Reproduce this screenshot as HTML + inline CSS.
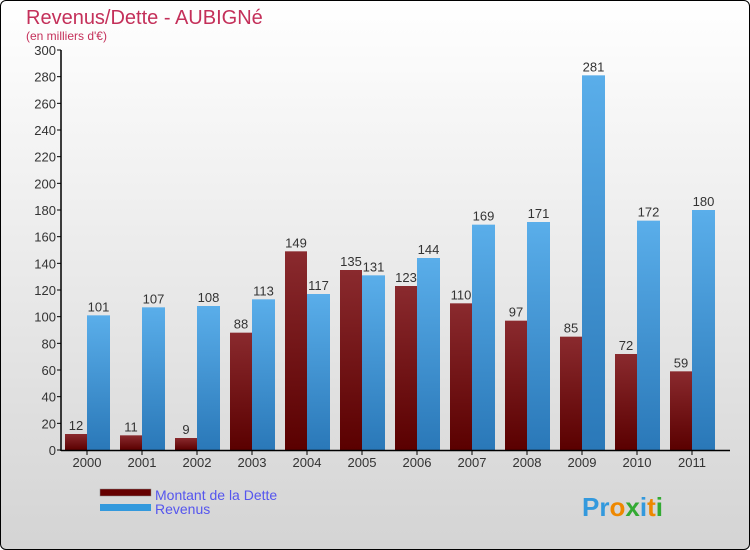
<!DOCTYPE html>
<html><head><meta charset="utf-8"><style>
body{margin:0;width:750px;height:550px;overflow:hidden;font-family:"Liberation Sans",sans-serif;}
#frame{position:absolute;left:0;top:0;width:748px;height:548px;border:1px solid #000;border-radius:6px;background:linear-gradient(#ffffff,#d4d4d4);}
</style></head><body>
<div id="frame"></div>
<svg width="750" height="550" style="position:absolute;left:0;top:0">
<defs>
<linearGradient id="gd" x1="0" y1="0" x2="0" y2="1"><stop offset="0" stop-color="#8a2a2e"/><stop offset="1" stop-color="#5a0000"/></linearGradient>
<linearGradient id="gr" x1="0" y1="0" x2="0" y2="1"><stop offset="0" stop-color="#5aaeea"/><stop offset="1" stop-color="#2a78b8"/></linearGradient>
</defs>
<text x="26" y="24" font-size="20" fill="#c4305a">Revenus/Dette - AUBIGNé</text>
<text x="26" y="40" font-size="12" fill="#c4305a">(en milliers d'€)</text>
<g id="plot"></g>
<rect x="100" y="489" width="51" height="7" fill="#660000" stroke="#888" stroke-width="0.5"/>
<text x="155" y="500" font-size="14" fill="#5555ee">Montant de la Dette</text>
<rect x="100" y="504" width="51" height="7" fill="#3399dd"/>
<text x="155" y="514" font-size="14" fill="#5555ee">Revenus</text>
<text x="582" y="516" font-size="26" font-weight="bold"><tspan fill="#3399dd">Pr</tspan><tspan fill="#ee8800">o</tspan><tspan fill="#33aa33">x</tspan><tspan fill="#3399dd">i</tspan><tspan fill="#ee8800">t</tspan><tspan fill="#33aa33">i</tspan></text>
</svg>
<script>
const years=["2000","2001","2002","2003","2004","2005","2006","2007","2008","2009","2010","2011"];
const dette=[12,11,9,88,149,135,123,110,97,85,72,59];
const revenus=[101,107,108,113,117,131,144,169,171,281,172,180];
const yTicks=[0,20,40,60,80,100,120,140,160,180,200,220,240,260,280,300];
const NS="http://www.w3.org/2000/svg";
const g=document.getElementById('plot');
const x0=62,gw=55,yBase=450,yTop=50,yMax=300;
const y=v=>yBase-v*(yBase-yTop)/yMax;
function mk(t,a,txt){const e=document.createElementNS(NS,t);for(const k in a)e.setAttribute(k,a[k]);if(txt!==undefined)e.textContent=txt;g.appendChild(e);return e;}
yTicks.forEach(v=>{
 const l=mk('line',{x1:57,x2:61,y1:y(v),y2:y(v),stroke:'#000'});
 
 
 const t=mk('text',{x:56,y:y(v)+5,'text-anchor':'end','font-size':13,fill:'#333'},v);
 
 
});
years.forEach((yr,i)=>{
 const gx=x0+i*gw;
 const bd=mk('rect',{x:gx+3,y:y(dette[i]),width:22,height:yBase-y(dette[i]),fill:'url(#gd)'});
 
 
 const br=mk('rect',{x:gx+25,y:y(revenus[i]),width:23,height:yBase-y(revenus[i]),fill:'url(#gr)'});
 
 
 const ld=mk('text',{x:gx+14,y:y(dette[i])-4,'text-anchor':'middle','font-size':13,fill:'#333'},dette[i]);
 
 
 const lr=mk('text',{x:gx+36.5,y:y(revenus[i])-4,'text-anchor':'middle','font-size':13,fill:'#333'},revenus[i]);
 
 
 const tk=mk('line',{x1:gx+25,x2:gx+25,y1:450,y2:455,stroke:'#000'});
 
 
 const xl=mk('text',{x:gx+25,y:467,'text-anchor':'middle','font-size':13,fill:'#333'},yr);
 
 
});
const ya=mk('line',{x1:61,x2:61,y1:50,y2:451,stroke:'#000','stroke-width':1.5});


const xa=mk('line',{x1:61,x2:730,y1:450.5,y2:450.5,stroke:'#000','stroke-width':1.5});


</script>
</body></html>
